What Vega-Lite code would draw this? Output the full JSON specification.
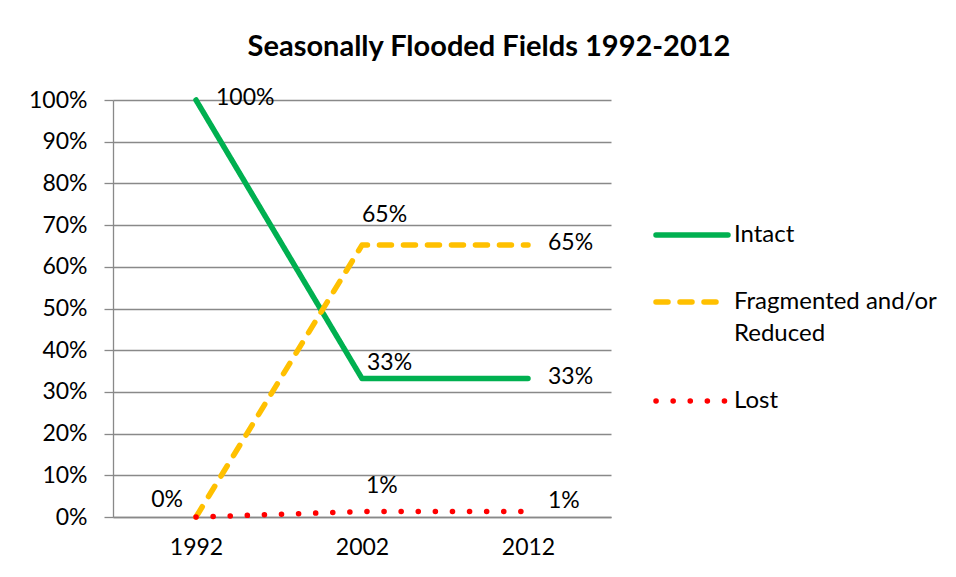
{
  "$schema": "https://vega.github.io/schema/vega-lite/v6.json",
  "width": 498,
  "height": 417,
  "autosize": {"type": "none"},
  "padding": {"left": 113, "top": 100, "right": 345, "bottom": 60},
  "background": "white",
  "title": {
    "text": "Seasonally Flooded Fields 1992-2012",
    "font": "Lato",
    "fontSize": 29,
    "fontWeight": "bold",
    "color": "black",
    "anchor": "middle",
    "frame": "group",
    "dx": 127,
    "offset": 25
  },
  "data": {
    "values": [
      {"year": "1992", "series": "Intact", "value": 1.0},
      {"year": "2002", "series": "Intact", "value": 0.332},
      {"year": "2012", "series": "Intact", "value": 0.332},
      {"year": "1992", "series": "Fragmented and/or Reduced", "value": 0.0},
      {"year": "2002", "series": "Fragmented and/or Reduced", "value": 0.652},
      {"year": "2012", "series": "Fragmented and/or Reduced", "value": 0.652},
      {"year": "1992", "series": "Lost", "value": 0.0},
      {"year": "2002", "series": "Lost", "value": 0.013},
      {"year": "2012", "series": "Lost", "value": 0.013}
    ]
  },
  "encoding": {
    "x": {
      "field": "year",
      "type": "ordinal",
      "scale": {"type": "point", "padding": 0.5},
      "axis": {"title": null, "labelAngle": 0, "ticks": false, "labelPadding": 19, "grid": false}
    },
    "y": {
      "field": "value",
      "type": "quantitative",
      "scale": {"domain": [0, 1]},
      "axis": {
        "title": null,
        "format": ".0%",
        "values": [0, 0.1, 0.2, 0.3, 0.4, 0.5, 0.6, 0.7, 0.8, 0.9, 1.0],
        "tickSize": 9,
        "labelPadding": 17,
        "grid": true
      }
    }
  },
  "layer": [
    {
      "mark": {"type": "line", "strokeCap": "round", "strokeJoin": "round"},
      "encoding": {
        "color": {
          "field": "series",
          "type": "nominal",
          "scale": {
            "domain": ["Intact", "Fragmented and/or Reduced", "Lost"],
            "range": ["#00B050", "#FFC000", "#FF0000"]
          },
          "legend": {
            "title": null,
            "labelExpr": "datum.label == 'Fragmented and/or Reduced' ? ['Fragmented and/or', 'Reduced'] : datum.label",
            "encode": {
              "symbols": {"update": {"strokeCap": {"value": "round"}}},
              "labels": {"update": {"lineHeight": {"value": 32}}}
            }
          }
        },
        "strokeDash": {
          "field": "series",
          "type": "nominal",
          "scale": {
            "domain": ["Intact", "Fragmented and/or Reduced", "Lost"],
            "range": [[1, 0], [12, 12], [0.1, 17]]
          },
          "legend": {
            "title": null,
            "labelExpr": "datum.label == 'Fragmented and/or Reduced' ? ['Fragmented and/or', 'Reduced'] : datum.label",
            "encode": {
              "symbols": {"update": {"strokeCap": {"value": "round"}}},
              "labels": {"update": {"lineHeight": {"value": 32}}}
            }
          }
        },
        "strokeWidth": {
          "field": "series",
          "type": "nominal",
          "scale": {
            "domain": ["Intact", "Fragmented and/or Reduced", "Lost"],
            "range": [5.5, 5.5, 7]
          },
          "legend": null
        }
      }
    },
    {
      "transform": [{"filter": "(datum.year == '1992' && datum.series == 'Intact') || (datum.year == '2012' && datum.series != 'Lost')"}],
      "mark": {"type": "text", "align": "left", "baseline": "middle", "dx": 20, "dy": -2, "font": "Lato", "fontSize": 23, "color": "black"},
      "encoding": {"text": {"field": "value", "type": "quantitative", "format": ".0%"}}
    },
    {
      "transform": [{"filter": "datum.year == '2012' && datum.series == 'Lost'"}],
      "mark": {"type": "text", "align": "left", "baseline": "middle", "dx": 20, "dy": -11, "font": "Lato", "fontSize": 23, "color": "black"},
      "encoding": {"text": {"field": "value", "type": "quantitative", "format": ".0%"}}
    },
    {
      "transform": [{"filter": "datum.year == '1992' && datum.series == 'Fragmented and/or Reduced'"}],
      "mark": {"type": "text", "align": "right", "baseline": "middle", "dx": -13, "dy": -17, "font": "Lato", "fontSize": 23, "color": "black"},
      "encoding": {"text": {"field": "value", "type": "quantitative", "format": ".0%"}}
    },
    {
      "transform": [{"filter": "datum.year == '2002' && datum.series == 'Fragmented and/or Reduced'"}],
      "mark": {"type": "text", "align": "left", "baseline": "middle", "dx": 0, "dy": -30, "font": "Lato", "fontSize": 23, "color": "black"},
      "encoding": {"text": {"field": "value", "type": "quantitative", "format": ".0%"}}
    },
    {
      "transform": [{"filter": "datum.year == '2002' && datum.series == 'Intact'"}],
      "mark": {"type": "text", "align": "left", "baseline": "middle", "dx": 5, "dy": -16, "font": "Lato", "fontSize": 23, "color": "black"},
      "encoding": {"text": {"field": "value", "type": "quantitative", "format": ".0%"}}
    },
    {
      "transform": [{"filter": "datum.year == '2002' && datum.series == 'Lost'"}],
      "mark": {"type": "text", "align": "left", "baseline": "middle", "dx": 4, "dy": -26, "font": "Lato", "fontSize": 23, "color": "black"},
      "encoding": {"text": {"field": "value", "type": "quantitative", "format": ".0%"}}
    }
  ],
  "config": {
    "view": {"stroke": null},
    "axis": {
      "domainColor": "#898989",
      "domainWidth": 1.3,
      "gridColor": "#898989",
      "gridWidth": 1.3,
      "tickColor": "#898989",
      "tickWidth": 1.3,
      "labelFont": "Lato",
      "labelFontSize": 23,
      "labelColor": "black"
    },
    "legend": {
      "orient": "none",
      "legendX": 540,
      "legendY": 96,
      "padding": 0,
      "symbolType": "stroke",
      "symbolSize": 5184,
      "symbolStrokeWidth": 5,
      "labelFont": "Lato",
      "labelFontSize": 24,
      "labelColor": "black",
      "labelOffset": 3,
      "labelLimit": 300,
      "rowPadding": 16
    }
  }
}
